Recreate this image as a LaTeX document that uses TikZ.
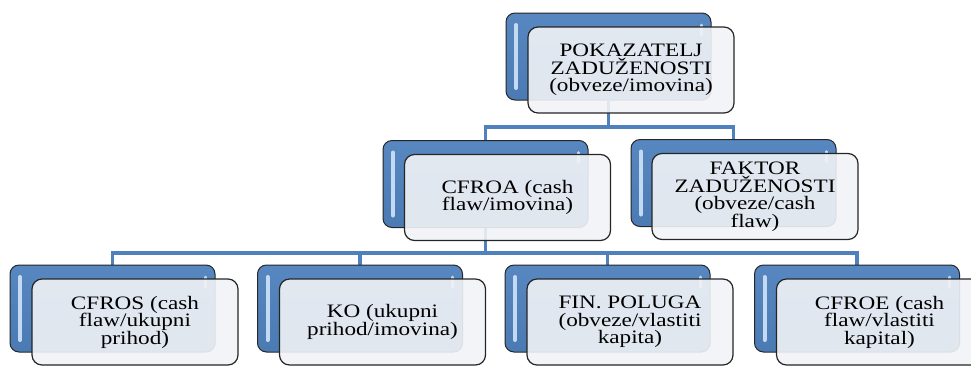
\documentclass[tikz,border=0pt]{standalone}
\usepackage{fontspec}
\setmainfont[FakeStretch=1.22]{Liberation Serif}
\usetikzlibrary{backgrounds}

\definecolor{boxblue}{HTML}{4F81BD}
\definecolor{boxlight}{HTML}{C4DAF2}
\definecolor{cardfill}{HTML}{F1F3F6}

\tikzset{
  backbox/.style={draw=black!85, line width=1pt, rounded corners=9pt,
    top color=boxblue!95!white, bottom color=boxblue!95!black,
    minimum width=205pt, minimum height=87pt, inner sep=0pt,
    path picture={
      \draw[boxlight, line width=4pt, line cap=round]
        ([xshift=10pt,yshift=-12pt]path picture bounding box.north west)
        -- ([xshift=10pt,yshift=12pt]path picture bounding box.south west);
      \draw[boxlight, line width=3pt, line cap=round]
        ([xshift=-10pt,yshift=-12pt]path picture bounding box.north east)
        -- ([xshift=-10pt,yshift=-22pt]path picture bounding box.north east);
    }},
  card/.style={draw=black!85, line width=1.2pt, rounded corners=10pt,
    fill=cardfill, fill opacity=0.9, text opacity=1,
    minimum width=206pt, minimum height=86pt, inner sep=2pt,
    align=center, font=\fontsize{19}{17.5}\selectfont},
  conn/.style={draw=boxblue, line width=3.2pt}
}

\begin{document}
\begin{tikzpicture}[x=1pt, y=-1pt]
  \useasboundingbox (0,0) rectangle (971,365);

  % top
  \node[backbox] (pokb) at (608.5,56.5) {};
  \node[card] (pok) at (631,70) {POKAZATELJ\\ZADUŽENOSTI\\(obveze/imovina)};

  % second row
  \node[backbox] (cfroab) at (485.5,184) {};
  \node[card] (cfroa) at (507.5,197.5) {CFROA (cash\\flaw/imovina)};
  \node[backbox] (faktorb) at (733.5,183) {};
  \node[card] (faktor) at (755,196.5) {FAKTOR\\ZADUŽENOSTI\\(obveze/cash\\flaw)};

  % third row
  \node[backbox] (cfrosb) at (112.5,308.5) {};
  \node[card] (cfros) at (135,322) {CFROS (cash\\flaw/ukupni\\prihod)};
  \node[backbox] (kob) at (360,308.5) {};
  \node[card] (ko) at (382.5,322) {KO (ukupni\\prihod/imovina)};
  \node[backbox] (polugab) at (607.5,308.5) {};
  \node[card] (poluga) at (630,322) {FIN. POLUGA\\(obveze/vlastiti\\kapita)};
  \node[backbox] (cfroeb) at (857,308.5) {};
  \node[card] (cfroe) at (879.5,322) {CFROE (cash\\flaw/vlastiti\\kapital)};

  \coordinate (j1) at (608.5,127);
  \coordinate (j2) at (485.5,253);

  \begin{pgfonlayer}{background}
    \draw[conn] (pokb.south) -- (j1) -| (cfroab.north);
    \draw[conn] (j1) -| (faktorb.north);

    \draw[conn] (cfroab.south) -- (j2) -| (cfrosb.north);
    \draw[conn] (j2) -| (kob.north);
    \draw[conn] (j2) -| (polugab.north);
    \draw[conn] (j2) -| (cfroeb.north);
  \end{pgfonlayer}
\end{tikzpicture}
\end{document}
